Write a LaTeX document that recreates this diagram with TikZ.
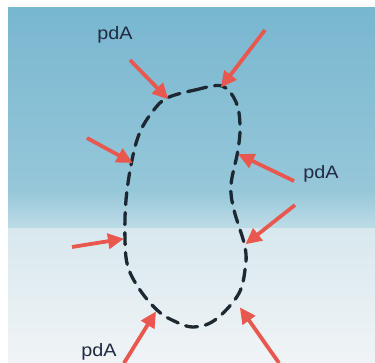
\documentclass[tikz,border=0pt]{standalone}
\usepackage{fontspec}
\setmainfont{Liberation Sans}
\usetikzlibrary{arrows.meta}
\definecolor{bgtop}{RGB}{120,183,208}
\definecolor{bgmid}{RGB}{150,199,217}
\definecolor{bgmid2}{RGB}{190,220,230}
\definecolor{bglow}{RGB}{216,232,238}
\definecolor{bgbot}{RGB}{240,244,246}
\definecolor{arrred}{RGB}{232,88,78}
\definecolor{cellline}{RGB}{28,40,50}
\definecolor{lbl}{RGB}{30,42,66}
\tikzset{
  hit/.style={arrred, line width=3.8pt, -{Triangle[length=16pt,width=15pt]}, shorten >=-2pt},
  lab/.style={text=lbl, font=\fontsize{18}{18}\selectfont, inner sep=0pt, xscale=1.1},
  wall/.style={cellline, line width=3.3pt, dash pattern=on 12pt off 8pt, line cap=round}
}
\begin{document}
\begin{tikzpicture}[x=1pt,y=-1pt]
\useasboundingbox (0,0) rectangle (375,363);
\fill[white] (0,0) rectangle (375,363);
\shade[top color=bgtop, bottom color=bgmid] (8,8) rectangle (375,190);
\shade[top color=bgmid, bottom color=bgmid2] (8,190) rectangle (375,229);
\shade[top color=bglow, bottom color=bgbot] (8,229) rectangle (375,363);
% cell outline
\draw[wall] plot[smooth cycle, tension=0.6] coordinates {
 (167,98) (195,90) (222,86) (236,102) (240,125) (238,150) (231,185) (234,210)
 (245,247) (245,270) (238,295) (215,320) (193,327) (172,320) (157,310) (140,290)
 (128,267) (125,240) (126,200) (132,160) (140,132) (153,111)};
% arrow tips and tails
\coordinate (t1) at (167,98);  \coordinate (s1) at (130,60);
\coordinate (t2) at (222,86);  \coordinate (s2) at (265,30);
\coordinate (t3) at (131,162); \coordinate (s3) at (87,138);
\coordinate (t4) at (240,155); \coordinate (s4) at (294,181);
\coordinate (t5) at (247,243); \coordinate (s5) at (295,205);
\coordinate (t6) at (122,239); \coordinate (s6) at (72,247);
\coordinate (t7) at (155,313); \coordinate (s7) at (124,363);
\coordinate (t8) at (241,309); \coordinate (s8) at (279,363);
\foreach \i in {1,...,8} \draw[hit] (s\i) -- (t\i);
\node[lab] (l1) at (115,35) {pdA};
\node[lab] (l2) at (321,174) {pdA};
\node[lab] (l3) at (99,352) {pdA};
\end{tikzpicture}
\end{document}
